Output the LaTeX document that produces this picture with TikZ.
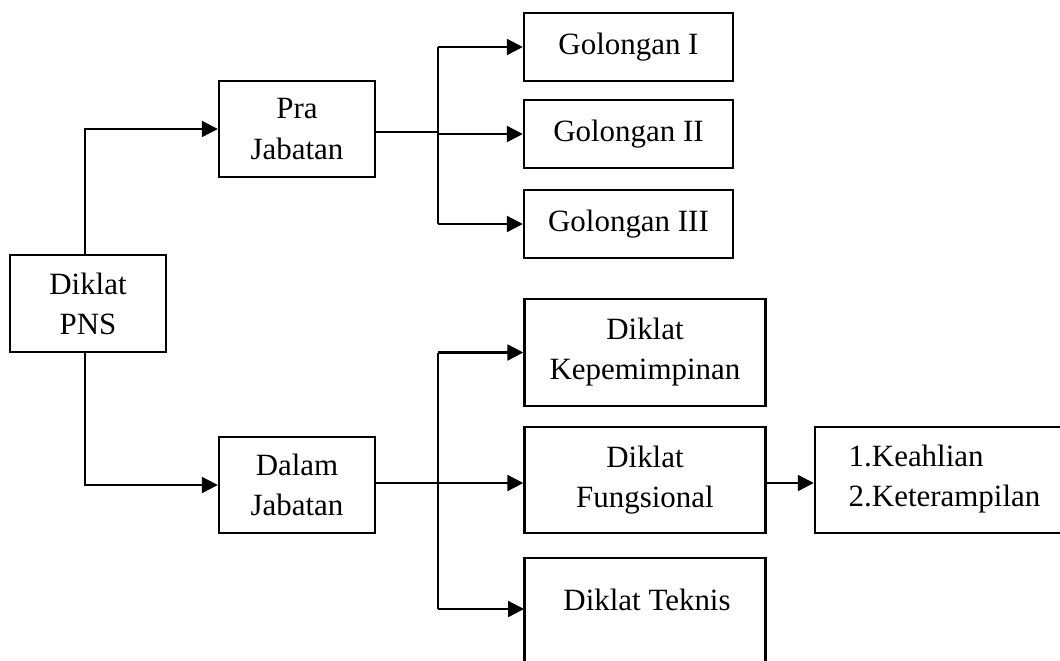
\documentclass[tikz,border=0pt]{standalone}
\usepackage{fontspec}
\setmainfont{Liberation Serif}
\usetikzlibrary{arrows.meta}

\begin{document}
\begin{tikzpicture}[x=0.01cm, y=-0.01cm,
    box/.style={draw, line width=0.65pt, inner sep=0pt, align=center,
        font=\fontsize{8.8}{11.4}\selectfont},
    teks/.style={inner sep=0pt, align=left, font=\fontsize{8.8}{11.4}\selectfont},
    panah/.style={line width=0.65pt, -{Triangle[length=4.5pt, width=4.5pt]}}]
    % batas gambar (kotak kanan dan bawah terpotong)
    \useasboundingbox (0,0) rectangle (1060,660);
    \clip (0,0) rectangle (1060,660);

    % kotak induk
    \node[box, minimum width=1.56cm, minimum height=0.97cm] (pns) at (88,303.5) {Diklat\\PNS};
    \coordinate (pnsx) at (85,303.5);

    % cabang pertama
    \node[box, minimum width=1.56cm, minimum height=0.96cm] (pra) at (297,129) {Pra\\Jabatan};
    \node[box, minimum width=1.56cm, minimum height=0.96cm] (dalam) at (297,485) {Dalam\\Jabatan};

    % golongan
    \node[box, minimum width=2.09cm, minimum height=0.68cm] (gol1) at (628.5,47) {Golongan I};
    \node[box, minimum width=2.09cm, minimum height=0.68cm] (gol2) at (628.5,134) {Golongan II};
    \node[box, minimum width=2.09cm, minimum height=0.68cm] (gol3) at (628.5,224) {Golongan III};

    % jenis diklat dalam jabatan
    \node[box, minimum width=2.41cm, minimum height=1.07cm] (kepem) at (645,352.5) {Diklat\\Kepemimpinan};
    \node[box, minimum width=2.41cm, minimum height=1.06cm] (fungs) at (645,480) {Diklat\\Fungsional};
    \node[box, minimum width=2.41cm, minimum height=2.0cm] (teknis) at (645,658) {};
    \node[teks] (teknislbl) at (647,600) {Diklat Teknis};

    % rincian fungsional
    \node[box, minimum width=3.0cm, minimum height=1.06cm] (ahli) at (965,480) {};
    \node[teks, anchor=west] (ahlilbl) at (848,479) {1.Keahlian\\2.Keterampilan};

    % panah dari induk
    \draw[panah] (pnsx |- pns.north) |- (pra.west);
    \draw[panah] (pnsx |- pns.south) |- (dalam.west);

    % percabangan pra jabatan
    \coordinate (cab1) at (438,132);
    \draw[line width=0.3pt] (pra.east |- cab1) -- (cab1);
    \draw[line width=0.65pt] (cab1 |- gol1.west) -- (cab1 |- gol3.west);
    \foreach \n in {gol1,gol2,gol3}
        \draw[panah] (cab1 |- \n.west) -- (\n.west);

    % percabangan dalam jabatan
    \coordinate (cab2) at (438,483);
    \coordinate (tkn) at (524,609);
    \draw[line width=0.3pt] (dalam.east |- cab2) -- (cab2);
    \draw[line width=0.65pt] (cab2 |- kepem.west) -- (cab2 |- tkn);
    \draw[panah] (cab2 |- kepem.west) -- (kepem.west);
    \draw[panah] (cab2) -- (fungs.west |- cab2);
    \draw[panah] (cab2 |- tkn) -- (tkn);

    % ke rincian
    \draw[panah] (fungs.east |- cab2) -- (ahli.west |- cab2);
\end{tikzpicture}
\end{document}
